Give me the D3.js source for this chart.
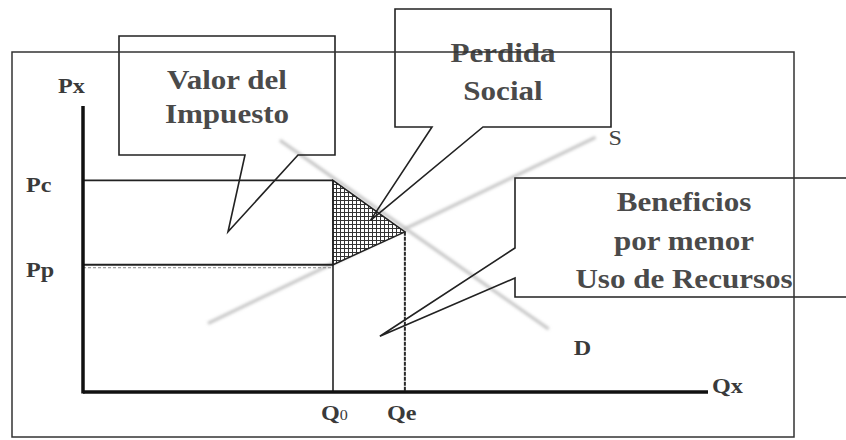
<!DOCTYPE html>
<html>
<head>
<meta charset="utf-8">
<script src="https://cdn.jsdelivr.net/npm/d3@7"></script>
<style>
  html, body { margin: 0; padding: 0; background: #fff; }
  svg { display: block; }
</style>
</head>
<body>
<svg id="chart" width="846" height="440"></svg>
<script>
// ---- data ----
const priceLevels = [
  { name: "Pc", value: 74 },
  { name: "Pp", value: 44.5 }
];
const quantityLevels = [
  { name: "Q0", value: 40 },
  { name: "Qe", value: 51.5 }
];
const equilibrium = { q: 51.5, p: 56 };
const supplyCurve = [ { q: 20, p: 24 }, { q: 82, p: 89 } ];
const demandCurve = [ { q: 31.5, p: 88 }, { q: 74.5, p: 22 } ];
const axisLabels = ["Px", "Qx"];
const curveLabels = ["S", "D"];
const calloutTexts = [
  ["Valor del", "Impuesto"],
  ["Perdida", "Social"],
  ["Beneficios", "por menor", "Uso de Recursos"]
];
// callout tips in data units (q, p)
const calloutTips = [ { q: 23.2, p: 56 }, { q: 46, p: 60 }, { q: 47.5, p: 19.5 } ];

// ---- layout ----
const svg = d3.select("#chart");
const x = d3.scaleLinear().domain([0, 100]).range([83, 708]);
const y = d3.scaleLinear().domain([0, 100]).range([392, 106]);
const serif = "'Liberation Serif', 'Times New Roman', serif";
const SX = 1.15;

const defs = svg.append("defs");
const pat = defs.append("pattern").attr("id", "hatch")
  .attr("patternUnits", "userSpaceOnUse").attr("width", 4).attr("height", 4);
pat.append("rect").attr("width", 4).attr("height", 4).attr("fill", "#fff");
pat.append("path").attr("d", "M0,0.5H4M0.5,0V4").attr("stroke", "#333").attr("stroke-width", 1);
defs.append("filter").attr("id", "blur").append("feGaussianBlur").attr("stdDeviation", 1.4);

const Pc = priceLevels[0].value, Pp = priceLevels[1].value;
const Q0 = quantityLevels[0].value, Qe = quantityLevels[1].value;

// S and D curves (faint grey, blurred)
const line = d3.line().x(d => x(d.q)).y(d => y(d.p));
[supplyCurve, demandCurve].forEach(c => {
  svg.append("path").attr("d", line(c)).attr("fill", "none")
    .attr("stroke", "#c2c2c2").attr("stroke-width", 3).attr("filter", "url(#blur)");
});

// deadweight loss triangle
svg.append("path")
  .attr("d", line([{ q: Q0, p: Pc }, { q: equilibrium.q, p: equilibrium.p }, { q: Q0, p: Pp }]) + "Z")
  .attr("fill", "url(#hatch)").attr("stroke", "#222").attr("stroke-width", 1.5);

// price lines
priceLevels.forEach(d => {
  svg.append("line").attr("x1", x(0)).attr("x2", x(Q0)).attr("y1", y(d.value)).attr("y2", y(d.value))
    .attr("stroke", "#222").attr("stroke-width", 1.8);
});
// dashed shadow under Pp
svg.append("line").attr("x1", x(0)).attr("x2", x(Q0)).attr("y1", y(Pp) + 3).attr("y2", y(Pp) + 3)
  .attr("stroke", "#888").attr("stroke-width", 1).attr("stroke-dasharray", "3,2");

// quantity verticals
svg.append("line").attr("x1", x(Q0)).attr("x2", x(Q0)).attr("y1", y(Pc)).attr("y2", y(0))
  .attr("stroke", "#222").attr("stroke-width", 1.6);
svg.append("line").attr("x1", x(Qe)).attr("x2", x(Qe)).attr("y1", y(equilibrium.p)).attr("y2", y(0))
  .attr("stroke", "#2a2a2a").attr("stroke-width", 2).attr("stroke-dasharray", "4,1");

// axes (thick)
svg.append("line").attr("x1", x(0)).attr("x2", x(0)).attr("y1", y(100)).attr("y2", y(0) + 1.5)
  .attr("stroke", "#111").attr("stroke-width", 3.5);
svg.append("line").attr("x1", x(0)).attr("x2", x(100)).attr("y1", y(0)).attr("y2", y(0))
  .attr("stroke", "#111").attr("stroke-width", 3.5);

// callout boxes
const boxes = [
  { x0: 119, y0: 36, x1: 335, y1: 155, side: "bottom", g0: 245, g1: 298, cx: 227, base: [89, 123] },
  { x0: 395, y0: 9, x1: 611, y1: 127, side: "bottom", g0: 432, g1: 483, cx: 503, base: [62, 100] },
  { x0: 515, y0: 178, x1: 870, y1: 297, side: "left", g0: 248, g1: 278, cx: 684, base: [211, 250, 288] }
];
boxes.forEach((b, i) => {
  const t = calloutTips[i];
  const tx = x(t.q), ty = y(t.p);
  let pts;
  if (b.side === "bottom") {
    pts = [[b.x0, b.y0], [b.x1, b.y0], [b.x1, b.y1], [b.g1, b.y1], [tx, ty], [b.g0, b.y1], [b.x0, b.y1]];
  } else {
    pts = [[b.x0, b.y0], [b.x1, b.y0], [b.x1, b.y1], [b.x0, b.y1], [b.x0, b.g1], [tx, ty], [b.x0, b.g0]];
  }
  svg.append("path").attr("d", d3.line()(pts) + "Z").attr("fill", "none")
    .attr("stroke", "#222").attr("stroke-width", 1.6);
  calloutTexts[i].forEach((s, j) => {
    svg.append("text").attr("transform", `translate(${b.cx},${b.base[j]}) scale(${SX},1)`)
      .attr("text-anchor", "middle").attr("font-family", serif).attr("font-weight", "bold")
      .attr("font-size", 27).attr("fill", "#4a4a4a").text(s);
  });
});

// outer frame (drawn on top)
svg.append("rect").attr("x", 12).attr("y", 52).attr("width", 782).attr("height", 385)
  .attr("fill", "none").attr("stroke", "#333").attr("stroke-width", 1.5);

// labels
function label(txt, px, py, opts = {}) {
  const t = svg.append("text").attr("transform", `translate(${px},${py}) scale(${SX},1)`)
    .attr("font-family", serif).attr("font-weight", opts.weight || "bold")
    .attr("font-size", opts.size || 21).attr("fill", opts.fill || "#3a3a3a");
  return t;
}
label(axisLabels[0], 58, 93).text(axisLabels[0]);
label(axisLabels[1], x(100) + 4, y(0) + 1).text(axisLabels[1]);
priceLevels.forEach(d => label(d.name, 26, y(d.value) + 12).text(d.name));
quantityLevels.forEach((d, i) => {
  const t = label("", x(d.value) - (i === 0 ? 12 : 18), 420);
  t.append("tspan").text(d.name[0]);
  t.append("tspan").attr("font-size", i === 0 ? 14 : 21).attr("font-weight", i === 0 ? "normal" : "bold").text(d.name.slice(1));
});
label(curveLabels[0], x(supplyCurve[1].q) + 13, y(supplyCurve[1].p) + 8, { weight: "normal", size: 21, fill: "#444" }).text(curveLabels[0]);
label(curveLabels[1], x(demandCurve[1].q) + 25, y(demandCurve[1].p) + 26).text(curveLabels[1]);
</script>
</body>
</html>
